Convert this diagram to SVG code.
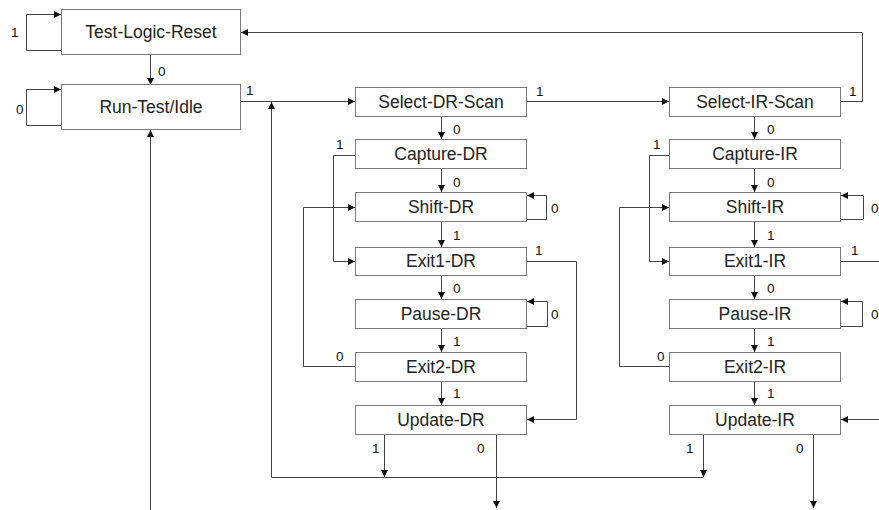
<svg xmlns="http://www.w3.org/2000/svg" width="879" height="510" viewBox="0 0 879 510">
<defs>
<marker id="ah" markerUnits="userSpaceOnUse" markerWidth="8" markerHeight="7" refX="7" refY="3.5" orient="auto">
<path d="M0,0 L7,3.5 L0,7 Z" fill="#111"/>
</marker>
<style>
.box rect{fill:#fff;stroke:#777;stroke-width:1}
.box text{font-family:"Liberation Sans",Arial,sans-serif;font-size:17.5px;fill:#222;text-anchor:middle}
.lbl{font-family:"Liberation Sans",Arial,sans-serif;font-size:13.5px;fill:#111}
#connectors path{fill:none;stroke:#444;stroke-width:1}
.a{marker-end:url(#ah)}
</style>
</defs>
<rect width="879" height="510" fill="#fff"/>

<g id="connectors">
<path class="a" d="M61.5,50.5 H26.5 V14.5 H61"/>
<path class="a" d="M150.5,54 V85"/>
<path class="a" d="M61.5,125.5 H26.5 V89.5 H61"/>
<path class="a" d="M241,101.5 H355"/>
<path class="a" d="M271.5,477.5 V102"/>
<path d="M271.5,477.5 H703.5"/>
<path class="a" d="M150.5,510 V130"/>
<path class="a" d="M527,101.5 H669"/>
<path class="a" d="M841,101.5 H862.5 V32.5 H241"/>
<!-- DR column -->
<path class="a" d="M441.5,116 V139"/>
<path class="a" d="M441.5,168 V192"/>
<path class="a" d="M441.5,221 V247"/>
<path class="a" d="M441.5,276 V299"/>
<path class="a" d="M441.5,328 V352"/>
<path class="a" d="M441.5,381 V405"/>
<path class="a" d="M355,155.5 H333.5 V261.5 H355"/>
<path class="a" d="M527,219.5 H546.5 V195.5 H527"/>
<path class="a" d="M527,261.5 H576.5 V419.5 H527"/>
<path class="a" d="M527,326.5 H547.5 V301.5 H527"/>
<path class="a" d="M355,366.5 H303.5 V207.5 H355"/>
<path class="a" d="M384.5,434 V477"/>
<path class="a" d="M496.5,434 V508"/>
<!-- IR column -->
<path class="a" d="M754.5,116 V139"/>
<path class="a" d="M754.5,168 V192"/>
<path class="a" d="M754.5,221 V247"/>
<path class="a" d="M754.5,276 V299"/>
<path class="a" d="M754.5,328 V352"/>
<path class="a" d="M754.5,381 V405"/>
<path class="a" d="M669,155.5 H649.5 V261.5 H669"/>
<path class="a" d="M841,219.5 H863.5 V195.5 H841"/>
<path d="M841,261.5 H879"/>
<path class="a" d="M841,326.5 H862.5 V301.5 H841"/>
<path class="a" d="M669,366.5 H619.5 V207.5 H669"/>
<path class="a" d="M879,419.5 H841"/>
<path class="a" d="M703.5,434 V477"/>
<path class="a" d="M813.5,434 V508"/>
</g>

<g id="tlr" class="box"><rect x="61.5" y="9.5" width="179" height="45"/><text x="151" y="38">Test-Logic-Reset</text></g>
<g id="rti" class="box"><rect x="61.5" y="84.5" width="179" height="45"/><text x="151" y="113">Run-Test/Idle</text></g>

<g id="select-dr" class="box"><rect x="355.5" y="87.5" width="171" height="29"/><text x="441" y="108">Select-DR-Scan</text></g>
<g id="capture-dr" class="box"><rect x="355.5" y="139.5" width="171" height="29"/><text x="441" y="160">Capture-DR</text></g>
<g id="shift-dr" class="box"><rect x="355.5" y="192.5" width="171" height="29"/><text x="441" y="213">Shift-DR</text></g>
<g id="exit1-dr" class="box"><rect x="355.5" y="247.5" width="171" height="28"/><text x="441" y="267">Exit1-DR</text></g>
<g id="pause-dr" class="box"><rect x="355.5" y="299.5" width="171" height="29"/><text x="441" y="320">Pause-DR</text></g>
<g id="exit2-dr" class="box"><rect x="355.5" y="352.5" width="171" height="29"/><text x="441" y="373">Exit2-DR</text></g>
<g id="update-dr" class="box"><rect x="355.5" y="405.5" width="171" height="29"/><text x="441" y="426">Update-DR</text></g>

<g id="select-ir" class="box"><rect x="669.5" y="87.5" width="171" height="29"/><text x="755" y="108">Select-IR-Scan</text></g>
<g id="capture-ir" class="box"><rect x="669.5" y="139.5" width="171" height="29"/><text x="755" y="160">Capture-IR</text></g>
<g id="shift-ir" class="box"><rect x="669.5" y="192.5" width="171" height="29"/><text x="755" y="213">Shift-IR</text></g>
<g id="exit1-ir" class="box"><rect x="669.5" y="247.5" width="171" height="28"/><text x="755" y="267">Exit1-IR</text></g>
<g id="pause-ir" class="box"><rect x="669.5" y="299.5" width="171" height="29"/><text x="755" y="320">Pause-IR</text></g>
<g id="exit2-ir" class="box"><rect x="669.5" y="352.5" width="171" height="29"/><text x="755" y="373">Exit2-IR</text></g>
<g id="update-ir" class="box"><rect x="669.5" y="405.5" width="171" height="29"/><text x="755" y="426">Update-IR</text></g>

<g id="labels">
<text class="lbl" x="11" y="37">1</text>
<text class="lbl" x="158" y="76">0</text>
<text class="lbl" x="16" y="114">0</text>
<text class="lbl" x="246" y="95">1</text>
<text class="lbl" x="536" y="96">1</text>
<text class="lbl" x="453" y="134">0</text>
<text class="lbl" x="336" y="149">1</text>
<text class="lbl" x="453" y="187">0</text>
<text class="lbl" x="551" y="213">0</text>
<text class="lbl" x="453" y="240">1</text>
<text class="lbl" x="535" y="255">1</text>
<text class="lbl" x="453" y="293">0</text>
<text class="lbl" x="551" y="319">0</text>
<text class="lbl" x="453" y="346">1</text>
<text class="lbl" x="336" y="361">0</text>
<text class="lbl" x="453" y="398">1</text>
<text class="lbl" x="372" y="453">1</text>
<text class="lbl" x="477" y="453">0</text>

<text class="lbl" x="849" y="96">1</text>
<text class="lbl" x="767" y="134">0</text>
<text class="lbl" x="653" y="149">1</text>
<text class="lbl" x="767" y="187">0</text>
<text class="lbl" x="871" y="213">0</text>
<text class="lbl" x="767" y="240">1</text>
<text class="lbl" x="851" y="255">1</text>
<text class="lbl" x="767" y="293">0</text>
<text class="lbl" x="871" y="319">0</text>
<text class="lbl" x="767" y="346">1</text>
<text class="lbl" x="657" y="361">0</text>
<text class="lbl" x="767" y="398">1</text>
<text class="lbl" x="686" y="453">1</text>
<text class="lbl" x="796" y="453">0</text>
</g>
</svg>
